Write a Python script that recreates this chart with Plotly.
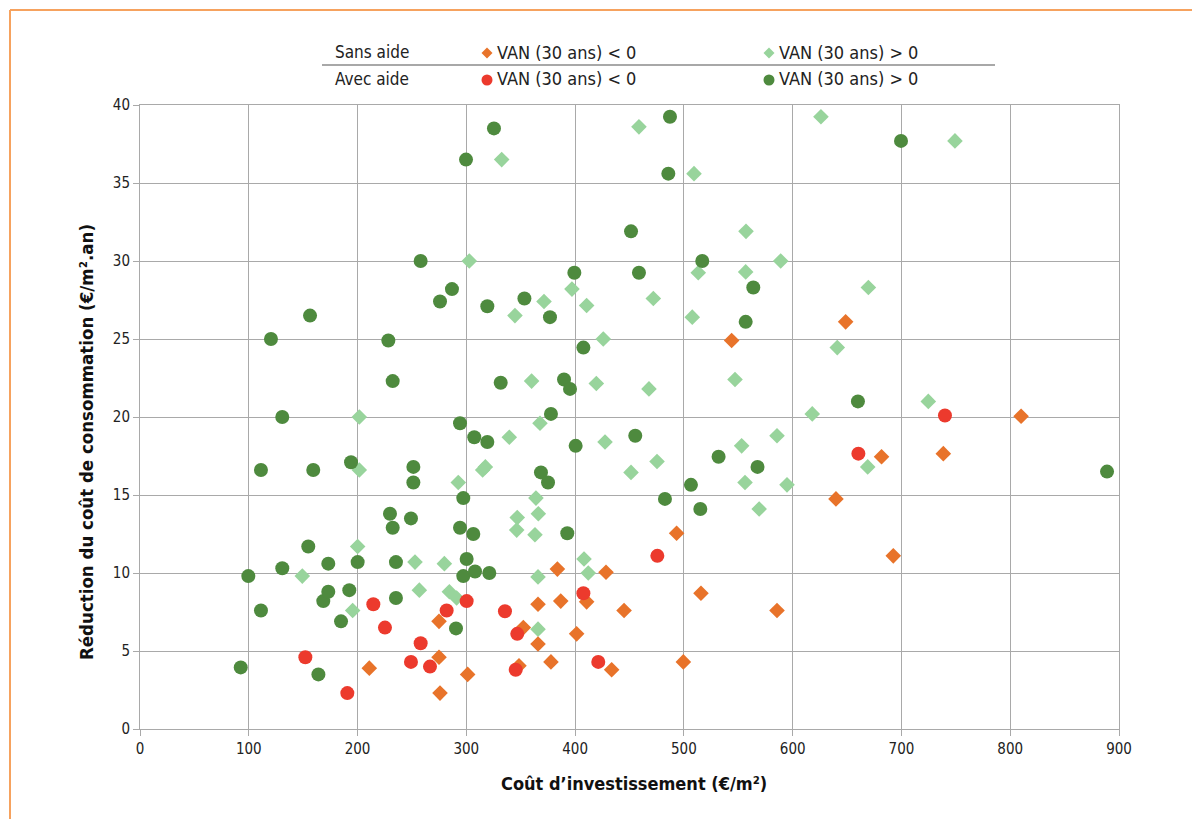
import plotly.graph_objects as go

# ---- Data ----
# Sans aide, VAN (30 ans) < 0  (orange diamonds)
sans_neg_x = [274.9, 274.9, 210.8, 275.8, 301.2, 352.4, 348.4, 365.9, 365.9, 377.8, 383.7, 386.8, 401.4, 410.6,
              428.4, 433.6, 445.0, 493.3, 499.5, 515.7, 543.9, 585.6, 639.8, 648.7, 681.7, 692.5, 738.5, 810.0]
sans_neg_y = [6.9, 4.6, 3.9, 2.3, 3.5, 6.5, 4.05, 8.0, 5.45, 4.3, 10.25, 8.2, 6.1, 8.15,
              10.05, 3.8, 7.6, 12.55, 4.3, 8.7, 24.9, 7.6, 14.75, 26.1, 17.45, 11.1, 17.65, 20.05]

# Sans aide, VAN (30 ans) > 0  (light green diamonds)
sans_pos_x = [201.6, 201.6, 200.1, 149.2, 195.5, 252.8, 256.8, 279.8, 284.4, 291.1, 292.6, 315.0, 317.5, 302.7,
              332.5, 344.7, 371.4, 360.0, 339.5, 367.7, 364.0, 366.2, 346.8, 346.3, 363.1, 365.9, 365.9, 397.1,
              410.6, 419.5, 425.9, 427.5, 408.2, 412.1, 451.4, 458.7, 467.9, 471.9, 475.3, 507.7, 509.3, 513.2,
              547.0, 553.1, 556.2, 556.8, 557.1, 569.2, 585.6, 589.0, 594.8, 618.0, 626.0, 641.0, 669.0, 669.6,
              724.7, 749.2]
sans_pos_y = [20.0, 16.6, 11.7, 9.8, 7.6, 10.7, 8.9, 10.6, 8.8, 8.4, 15.8, 16.6, 16.8, 30.0,
              36.5, 26.5, 27.4, 22.3, 18.7, 19.6, 14.8, 13.8, 13.55, 12.75, 12.45, 9.75, 6.4, 28.2,
              27.15, 22.15, 25.0, 18.4, 10.9, 10.0, 16.45, 38.6, 21.8, 27.6, 17.15, 26.4, 35.6, 29.25,
              22.4, 18.15, 15.8, 29.3, 31.9, 14.1, 18.8, 30.0, 15.65, 20.2, 39.25, 24.45, 16.8, 28.3,
              21.0, 37.7]

# Avec aide, VAN (30 ans) < 0  (red circles)
avec_neg_x = [152.0, 190.6, 214.5, 225.2, 249.1, 258.0, 266.6, 281.9, 300.3, 335.5, 345.4, 346.8, 407.6,
              421.3, 475.6, 660.4, 740.0]
avec_neg_y = [4.6, 2.3, 8.0, 6.5, 4.3, 5.5, 4.0, 7.6, 8.2, 7.55, 3.8, 6.1, 8.7,
              4.3, 11.1, 17.65, 20.1]

# Avec aide, VAN (30 ans) > 0  (dark green circles)
avec_pos_x = [92.6, 99.6, 111.2, 111.2, 120.4, 130.8, 130.8, 154.7, 156.3, 159.3, 164.0, 168.5, 173.1, 173.1,
              184.8, 192.4, 194.0, 200.1, 228.3, 229.8, 232.3, 232.3, 235.3, 235.3, 249.1, 251.3, 251.3, 258.0,
              275.8, 286.8, 290.5, 294.2, 294.2, 297.2, 297.2, 299.7, 300.3, 306.4, 307.3, 308.0, 319.3, 319.3,
              321.1, 325.4, 331.6, 353.4, 368.6, 375.1, 376.9, 377.8, 389.8, 392.8, 395.3, 399.3, 400.5, 407.6,
              451.4, 455.3, 458.7, 482.6, 485.7, 487.2, 506.5, 515.1, 516.9, 531.9, 556.8, 563.8, 567.7, 660.0,
              699.6, 889.0]
avec_pos_y = [3.95, 9.8, 7.6, 16.6, 25.0, 20.0, 10.3, 11.7, 26.5, 16.6, 3.5, 8.2, 8.8, 10.6,
              6.9, 8.9, 17.1, 10.7, 24.9, 13.8, 12.9, 22.3, 10.7, 8.4, 13.5, 16.8, 15.8, 30.0,
              27.4, 28.2, 6.45, 19.6, 12.9, 14.8, 9.8, 36.5, 10.9, 12.5, 18.7, 10.1, 18.4, 27.1,
              10.0, 38.5, 22.2, 27.6, 16.45, 15.8, 26.4, 20.2, 22.4, 12.55, 21.8, 29.25, 18.15, 24.45,
              31.9, 18.8, 29.25, 14.75, 35.6, 39.25, 15.65, 14.1, 30.0, 17.45, 26.1, 28.3, 16.8, 21.0,
              37.7, 16.5]

x_ticks = [0, 100, 200, 300, 400, 500, 600, 700, 800, 900]
y_ticks = [0, 5, 10, 15, 20, 25, 30, 35, 40]

row_labels = ["Sans aide", "Avec aide"]
legend_text = ["VAN (30 ans) < 0", "VAN (30 ans) > 0"]

C_ORANGE = "#E8732A"
C_LIGHT = "#98D49C"
C_RED = "#EC3A2D"
C_DARK = "#4E8A3E"

FONT = "Liberation Sans Narrow, DejaVu Sans Condensed, Roboto, sans-serif"

fig = go.Figure()
fig.add_trace(go.Scatter(x=sans_pos_x, y=sans_pos_y, mode="markers", showlegend=False,
                         marker=dict(symbol="diamond", size=12, color=C_LIGHT)))
fig.add_trace(go.Scatter(x=sans_neg_x, y=sans_neg_y, mode="markers", showlegend=False,
                         marker=dict(symbol="diamond", size=12, color=C_ORANGE)))
fig.add_trace(go.Scatter(x=avec_pos_x, y=avec_pos_y, mode="markers", showlegend=False,
                         marker=dict(symbol="circle", size=14, color=C_DARK)))
fig.add_trace(go.Scatter(x=avec_neg_x, y=avec_neg_y, mode="markers", showlegend=False,
                         marker=dict(symbol="circle", size=14, color=C_RED)))

W, H = 1192, 819
L, R, T, B = 140, 73, 105, 90
pw, ph = W - L - R, H - T - B


def px_x(p):
    return (p - L) / pw


def px_y(p):
    return (H - B - p) / ph


annotations = []
shapes = []
# Orange frame (left and top edges visible)
shapes.append(dict(type="line", xref="paper", yref="paper",
                   x0=px_x(10), x1=px_x(10), y0=px_y(H), y1=px_y(10),
                   line=dict(color="#F6A25E", width=2), layer="below"))
shapes.append(dict(type="line", xref="paper", yref="paper",
                   x0=px_x(10), x1=px_x(W), y0=px_y(10), y1=px_y(10),
                   line=dict(color="#F6A25E", width=2), layer="below"))
# Legend separator
shapes.append(dict(type="line", xref="paper", yref="paper",
                   x0=px_x(322), x1=px_x(995), y0=px_y(65), y1=px_y(65),
                   line=dict(color="#A8A8A8", width=2)))

rows_y = [52, 79]
for i, lab in enumerate(row_labels):
    annotations.append(dict(text=lab, xref="paper", yref="paper", x=px_x(333), y=px_y(rows_y[i]),
                            xanchor="left", yanchor="middle", showarrow=False,
                            font=dict(family=FONT, size=17, color="#222")))
    for j, t in enumerate(legend_text):
        annotations.append(dict(text=t, xref="paper", yref="paper", x=px_x([495, 777][j]), y=px_y(rows_y[i]),
                                xanchor="left", yanchor="middle", showarrow=False,
                                font=dict(family=FONT, size=18, color="#222")))


# legend symbols
def diamond(cx, cy, r, color):
    x0, x1 = px_x(cx - r), px_x(cx + r)
    xm = px_x(cx)
    y0, y1 = px_y(cy + r), px_y(cy - r)
    ym = px_y(cy)
    return dict(type="path", xref="paper", yref="paper",
                path=f"M {xm} {y1} L {x1} {ym} L {xm} {y0} L {x0} {ym} Z",
                fillcolor=color, line=dict(width=0))


def circle(cx, cy, r, color):
    return dict(type="circle", xref="paper", yref="paper",
                x0=px_x(cx - r), x1=px_x(cx + r), y0=px_y(cy + r), y1=px_y(cy - r),
                fillcolor=color, line=dict(width=0))


shapes.append(diamond(487, rows_y[0] + 1, 5.5, C_ORANGE))
shapes.append(diamond(769, rows_y[0] + 1, 5.5, C_LIGHT))
shapes.append(circle(487, rows_y[1] + 1, 5.5, C_RED))
shapes.append(circle(769, rows_y[1] + 1, 5.5, C_DARK))

# Axis titles
annotations.append(dict(text="<b>Réduction du coût de consommation (€/m².an)</b>", xref="paper", yref="paper",
                        x=px_x(86), y=px_y(442), textangle=-90, showarrow=False, xanchor="center", yanchor="middle",
                        font=dict(family=FONT, size=18.5, color="#111")))
annotations.append(dict(text="<b>Coût d’investissement (€/m²)</b>", xref="paper", yref="paper",
                        x=px_x(634), y=px_y(783), showarrow=False, xanchor="center", yanchor="middle",
                        font=dict(family=FONT, size=18, color="#111")))

axis_common = dict(showgrid=True, gridcolor="#A9A9A9", gridwidth=1, showline=True, linecolor="#A9A9A9",
                   linewidth=1, ticks="outside", ticklen=6, tickcolor="#A9A9A9", zeroline=False,
                   tickfont=dict(family=FONT, size=15, color="#222"), fixedrange=True)

fig.update_layout(
    width=W, height=H,
    margin=dict(l=L, r=R, t=T, b=B, pad=0),
    paper_bgcolor="white", plot_bgcolor="white",
    xaxis=dict(range=[0, 900], tickvals=x_ticks, mirror=True, **axis_common),
    yaxis=dict(range=[0, 40], tickvals=y_ticks, mirror=True, **axis_common),
    annotations=annotations, shapes=shapes,
    font=dict(family=FONT),
)

fig.write_html("out.html", config={"displayModeBar": False})
